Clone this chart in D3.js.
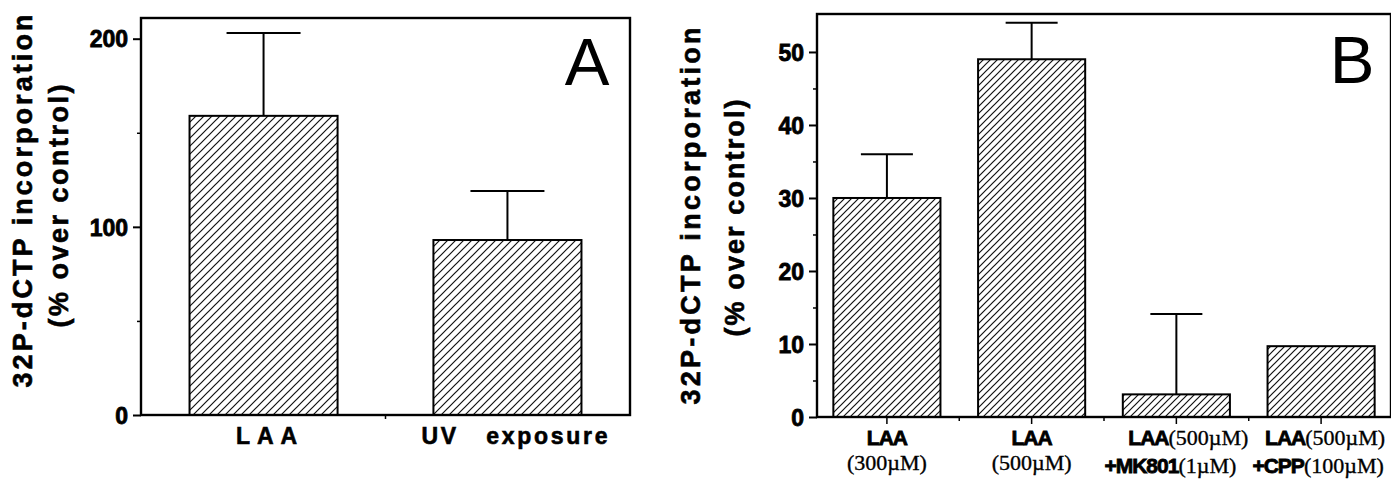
<!DOCTYPE html>
<html>
<head>
<meta charset="utf-8">
<script src="https://cdn.jsdelivr.net/npm/d3@7/dist/d3.min.js"></script>
<style>
  html, body { margin: 0; padding: 0; background: #fff; }
  svg { display: block; }
  .sans { font-family: "Liberation Sans", Arial, Helvetica, sans-serif; }
  .serif { font-family: "Liberation Serif", "Times New Roman", serif; }
</style>
</head>
<body>
<svg id="chart" width="1391" height="481"></svg>
<script>
// ---------- Data ----------
const catsA = ["LAA", "UV exposure"];
const valuesA = [159, 93];
const errorsA = [44, 26];
const ticksA = [0, 100, 200];
const minorTicksA = [50, 150];

const catsB = ["c1", "c2", "c3", "c4"];
const labelsB1 = [[["LAA", "b"]], [["LAA", "b"]], [["LAA", "b"], ["(500µM)", "s"]], [["LAA", "b"], ["(500µM)", "s"]]];
const labelsB2 = [[["(300µM)", "s"]], [["(500µM)", "s"]], [["+MK801", "b"], ["(1µM)", "s"]], [["+CPP", "b"], ["(100µM)", "s"]]];
const valuesB = [30, 49, 3.1, 9.7];
const errorsB = [6, 5, 11, null];
const ticksB = [0, 10, 20, 30, 40, 50];
const minorTicksB = [5, 15, 25, 35, 45];

const yTitle1 = "32P-dCTP  incorporation";
const yTitle2 = "(% over control)";

// ---------- Setup ----------
const svg = d3.select("#chart");
const defs = svg.append("defs");
function hatch(id, s) {
  const p = defs.append("pattern").attr("id", id)
    .attr("patternUnits", "userSpaceOnUse").attr("width", s).attr("height", s);
  p.append("path")
    .attr("d", `M0,${s} L${s},0 M${-s/4},${s/4} L${s/4},${-s/4} M${s*3/4},${s*5/4} L${s*5/4},${s*3/4}`)
    .attr("stroke", "#111").attr("stroke-width", 1.2);
}
hatch("hatchA", 8);
hatch("hatchB", 7);

function heavy(sel, w) {
  return sel.attr("stroke", "#000").attr("stroke-width", w).attr("paint-order", "stroke");
}

function panel(o) {
  const g = svg.append("g");
  const x = d3.scaleBand().domain(o.cats).range([o.left, o.right])
    .paddingInner(o.pI).paddingOuter(o.pO);
  const y = d3.scaleLinear().domain(o.ydom).range([o.bottom, o.top]);

  // bars
  g.selectAll("rect.bar").data(o.values).join("rect")
    .attr("x", (d, i) => x(o.cats[i]))
    .attr("y", d => y(d))
    .attr("width", x.bandwidth())
    .attr("height", d => y(0) - y(d))
    .attr("fill", `url(#${o.hatch})`)
    .attr("stroke", "#000").attr("stroke-width", 2);

  // error bars
  const eb = o.values.map((v, i) => ({v, e: o.errors[i], c: o.cats[i]})).filter(d => d.e != null);
  const cx = d => x(d.c) + x.bandwidth() / 2;
  g.selectAll("line.err").data(eb).join("line")
    .attr("x1", cx).attr("x2", cx)
    .attr("y1", d => y(d.v)).attr("y2", d => y(d.v + d.e))
    .attr("stroke", "#000").attr("stroke-width", 2);
  g.selectAll("line.cap").data(eb).join("line")
    .attr("x1", d => cx(d) - o.cap).attr("x2", d => cx(d) + o.cap)
    .attr("y1", d => y(d.v + d.e)).attr("y2", d => y(d.v + d.e))
    .attr("stroke", "#000").attr("stroke-width", 2);

  // frame
  g.append("rect").attr("x", o.left).attr("y", o.top)
    .attr("width", o.right - o.left).attr("height", o.bottom - o.top)
    .attr("fill", "none").attr("stroke", "#000").attr("stroke-width", 2.4);

  // y axis
  const ya = d3.axisLeft(y).tickValues(o.ticks).tickSize(8).tickPadding(5).tickFormat(d3.format("d"));
  const yg = g.append("g").attr("transform", `translate(${o.left},0)`).call(ya);
  yg.select(".domain").remove();
  yg.selectAll("line").attr("stroke", "#000").attr("stroke-width", 2);
  heavy(yg.selectAll("text").attr("class", "sans").attr("font-size", o.tickFont).attr("font-weight", "bold")
    .attr("fill", "#000").attr("dy", "0.36em"), 0.8);
  const ym = d3.axisLeft(y).tickValues(o.minor).tickSize(4).tickFormat("");
  const ymg = g.append("g").attr("transform", `translate(${o.left},0)`).call(ym);
  ymg.select(".domain").remove();
  ymg.selectAll("line").attr("stroke", "#000").attr("stroke-width", 1.5);

  // y title
  const tx = [o.t1x, o.t2x];
  [yTitle1, yTitle2].forEach((t, i) => {
    heavy(g.append("text").attr("class", "sans")
      .attr("transform", `translate(${tx[i]},${o.tcy[i]}) rotate(-90)`)
      .attr("text-anchor", "middle").attr("font-size", 27).attr("font-weight", "bold")
      .attr("textLength", o.tlen[i]).attr("lengthAdjust", "spacing")
      .text(t), 0.6);
  });

  // panel letter
  g.append("text").attr("class", "sans").attr("x", o.letterX).attr("y", o.letterY)
    .attr("text-anchor", "middle").attr("font-size", 67).text(o.letter);
  return {g, x, y};
}

// ---------- Panel A ----------
const A = panel({
  cats: catsA, values: valuesA, errors: errorsA, ticks: ticksA, minor: minorTicksA,
  left: 141, right: 630, top: 18, bottom: 415, ydom: [0, 211],
  pI: 0.393, pO: 0.199, hatch: "hatchA", cap: 37, tickFont: 23,
  t1x: 32, t2x: 68, tcy: [201, 206], tlen: [373, 243],
  letter: "A", letterX: 587, letterY: 85
});
// x tick between bars
A.g.append("line")
  .attr("x1", (A.x(catsA[0]) + A.x.bandwidth() + A.x(catsA[1])) / 2)
  .attr("x2", (A.x(catsA[0]) + A.x.bandwidth() + A.x(catsA[1])) / 2)
  .attr("y1", 415).attr("y2", 419).attr("stroke", "#000").attr("stroke-width", 1.5);
// x labels A
heavy(A.g.selectAll("text.xl").data(catsA).join("text")
  .attr("class", "sans")
  .attr("x", (d, i) => A.x(d) + A.x.bandwidth() / 2 + (i === 0 ? 3 : 7))
  .attr("y", 444).attr("text-anchor", "middle")
  .attr("font-size", 23).attr("font-weight", "bold")
  .attr("textLength", (d, i) => i === 0 ? 61 : 186).attr("lengthAdjust", "spacing")
  .attr("xml:space", "preserve")
  .text(d => d === "UV exposure" ? "UV   exposure" : d), 0.6);

// ---------- Panel B ----------
const B = panel({
  cats: catsB, values: valuesB, errors: errorsB, ticks: ticksB, minor: minorTicksB,
  left: 817, right: 1391, top: 14, bottom: 417, ydom: [0, 55.2],
  pI: 0.26, pO: 0.113, hatch: "hatchB", cap: 26, tickFont: 23,
  t1x: 700, t2x: 744, tcy: [216, 218], tlen: [377, 237],
  letter: "B", letterX: 1352, letterY: 83
});
// x ticks B
B.g.selectAll("line.xt").data(catsB).join("line")
  .attr("x1", d => B.x(d) + B.x.bandwidth() / 2).attr("x2", d => B.x(d) + B.x.bandwidth() / 2)
  .attr("y1", 417).attr("y2", 424).attr("stroke", "#000").attr("stroke-width", 1.5);
B.g.selectAll("line.xm").data(catsB.slice(1)).join("line")
  .attr("x1", d => B.x(d) - B.x.step() * B.x.paddingInner() / 2)
  .attr("x2", d => B.x(d) - B.x.step() * B.x.paddingInner() / 2)
  .attr("y1", 417).attr("y2", 421).attr("stroke", "#000").attr("stroke-width", 1.5);

// x labels B
const dx1 = [0, 0, 12, 4];
const dx2 = [0, 0, -6, -3];
function writeLabel(parts, xc, yb) {
  const t = B.g.append("text").attr("x", xc).attr("y", yb).attr("text-anchor", "middle");
  parts.forEach(([s, k]) => {
    const sp = t.append("tspan")
      .attr("font-family", k === "b" ? "Liberation Sans, Arial, sans-serif" : "Liberation Serif, Times New Roman, serif")
      .attr("font-weight", k === "b" ? "bold" : "normal")
      .attr("font-size", k === "b" ? 21 : 22)
      .text(s);
    if (k === "b") { sp.attr("letter-spacing", -1); heavy(sp, 0.8); }
    else { heavy(sp, 0.35); }
  });
}
catsB.forEach((c, i) => {
  const xc = B.x(c) + B.x.bandwidth() / 2;
  writeLabel(labelsB1[i], xc + dx1[i], 445);
  writeLabel(labelsB2[i], xc + dx2[i], i < 2 ? 470 : 473);
});
</script>
</body>
</html>
